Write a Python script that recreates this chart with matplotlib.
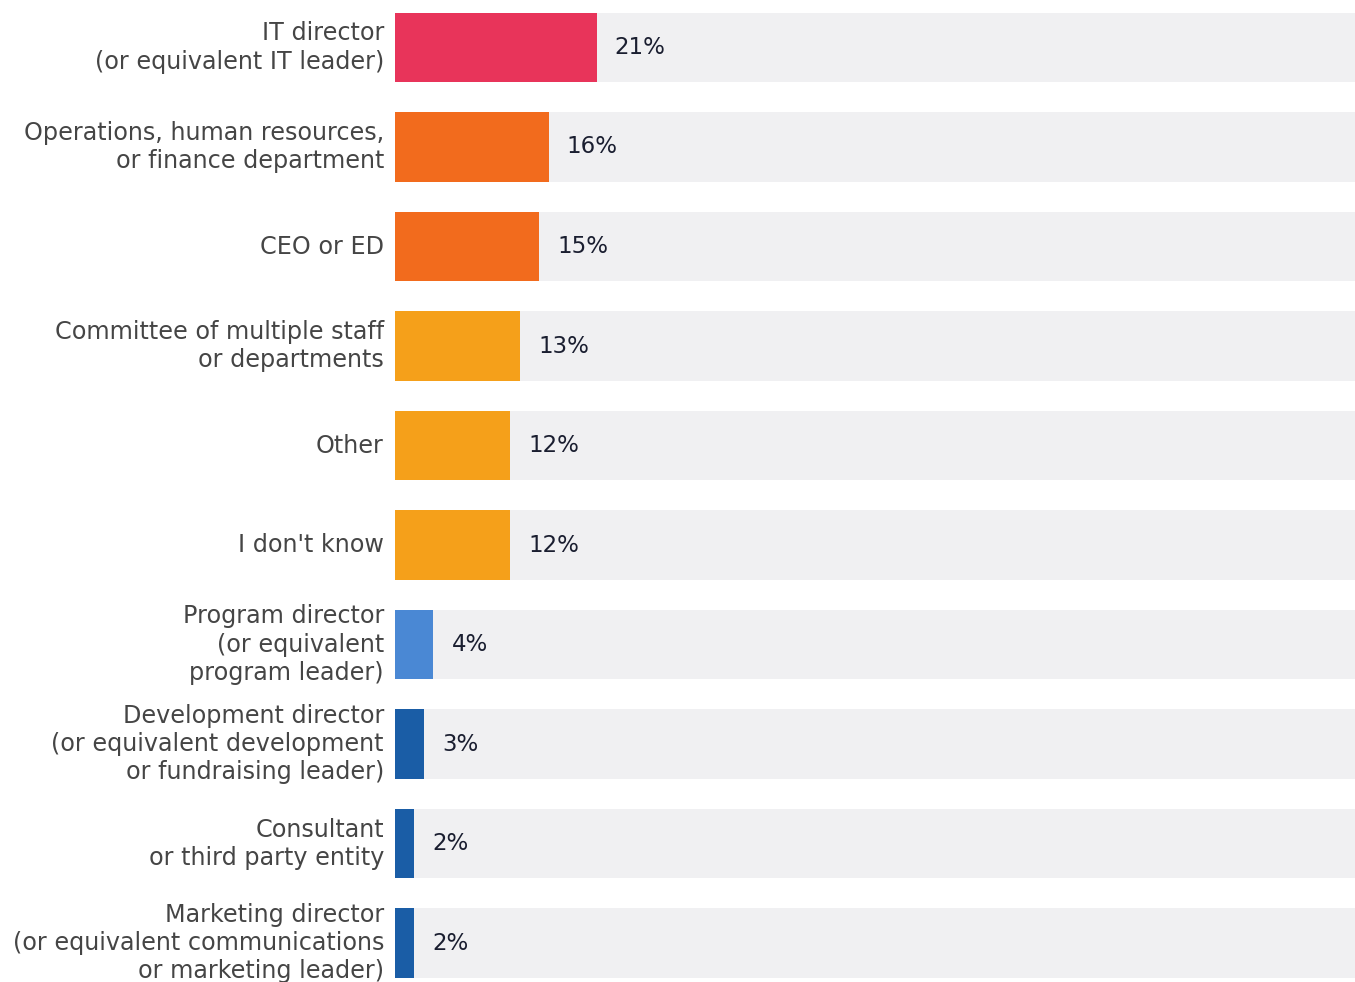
import matplotlib
matplotlib.use("Agg")
import matplotlib.pyplot as plt

categories = [
    "IT director\n(or equivalent IT leader)",
    "Operations, human resources,\nor finance department",
    "CEO or ED",
    "Committee of multiple staff\nor departments",
    "Other",
    "I don't know",
    "Program director\n(or equivalent\nprogram leader)",
    "Development director\n(or equivalent development\nor fundraising leader)",
    "Consultant\nor third party entity",
    "Marketing director\n(or equivalent communications\nor marketing leader)",
]
values = [21, 16, 15, 13, 12, 12, 4, 3, 2, 2]
bar_colors = [
    "#e8345a", "#f26b1d", "#f26b1d", "#f5a01a", "#f5a01a",
    "#f5a01a", "#4a88d4", "#1a5da6", "#1a5da6", "#1a5da6",
]
track_max = 100

plt.rcParams["font.family"] = ["DejaVu Sans"]

W, H = 1355, 982
fig = plt.figure(figsize=(W / 100, H / 100), dpi=100)
fig.patch.set_facecolor("white")
ax = fig.add_axes([395 / W, 0, 960 / W, 1])

ypos = list(range(len(categories)))
bar_h = 0.70

ax.barh(ypos, [track_max] * len(ypos), height=bar_h, color="#f0f0f2", zorder=1)
ax.barh(ypos, values, height=bar_h, color=bar_colors, zorder=2)

for y, v, lab in zip(ypos, values, categories):
    ax.text(v + 1.9, y, f"{v}%", va="center", ha="left",
            fontsize=16.5, color="#1a1e30", zorder=3)
    ax.annotate(lab, xy=(0, y), xycoords="data", xytext=(-8, 0),
                textcoords="offset points", ha="right", va="center",
                fontsize=17.2, color="#454545", linespacing=1.22,
                annotation_clip=False)

ax.set_xlim(0, track_max)
ax.set_ylim(9.39, -0.477)
ax.axis("off")

fig.savefig("out.png", dpi=100, facecolor="white")
